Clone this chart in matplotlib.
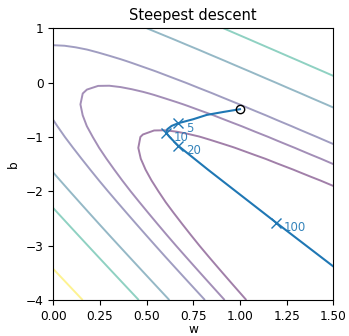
import numpy as np
import matplotlib
matplotlib.use("Agg")
import matplotlib.pyplot as plt

# ---- data ----
# loss model: two soft-hinge terms (contour slopes)
slope_pos = 3.6      # lower-left family of contour lines
slope_neg = 1.5      # upper-right family of contour lines
shift = -0.5
levels = [0.64, 0.84, 1.06, 1.54, 2.02, 3.0]

# steepest-descent path
path_w = [1.000, 0.912, 0.822, 0.750, 0.670, 0.634, 0.611, 0.604, 0.621, 0.670, 0.830, 1.193, 1.500]
path_b = [-0.489, -0.539, -0.594, -0.673, -0.746, -0.796, -0.857, -0.919, -0.993, -1.164, -1.605, -2.574, -3.382]
mark_idx = [4, 7, 9, 11]
mark_labels = ["5", "10", "20", "100"]

xticks = [0.0, 0.25, 0.5, 0.75, 1.0, 1.25, 1.5]
yticks = [-4, -3, -2, -1, 0, 1]


def softplus(z):
    return np.logaddexp(0.0, z)


def loss(w, b):
    return softplus(-(slope_pos * w + b) + shift) + softplus(slope_neg * w + b + shift)


fig = plt.figure(figsize=(3.49, 3.36), dpi=100)
ax = fig.add_axes([0.1527, 0.1071, 0.8023, 0.8087])

W, B = np.meshgrid(np.linspace(0, 1.5, 26), np.linspace(-4, 1, 26))
Z = loss(W, B)
ax.contour(W, B, Z, levels=levels, cmap="viridis", alpha=0.5, linewidths=1.4)

ax.plot(path_w, path_b, color="tab:blue", lw=1.5, zorder=3)
mw = [path_w[i] for i in mark_idx]
mb = [path_b[i] for i in mark_idx]
ax.plot(mw, mb, ls="none", marker="x", ms=7, mew=1.0, color="tab:blue", zorder=4)
for x, y, t in zip(mw, mb, mark_labels):
    ax.annotate(t, (x, y), xytext=(5.5, -3.5), textcoords="offset points",
                ha="left", va="center", color="tab:blue", fontsize=8.5, alpha=0.9)
ax.plot(path_w[0], path_b[0], ls="none", marker="o", ms=6, mfc="none", mec="black", mew=1.0, zorder=5)

ax.set_xlim(0, 1.5)
ax.set_ylim(-4, 1)
ax.set_xticks(xticks)
ax.set_xticklabels([f"{v:.2f}" for v in xticks])
ax.set_yticks(yticks)
ax.tick_params(labelsize=8.7)
ax.set_xlabel("w", fontsize=8.7, labelpad=0)
ax.set_ylabel("b", fontsize=8.7)
ax.set_title("Steepest descent", fontsize=10.5)

fig.savefig("out.png", dpi=100)
